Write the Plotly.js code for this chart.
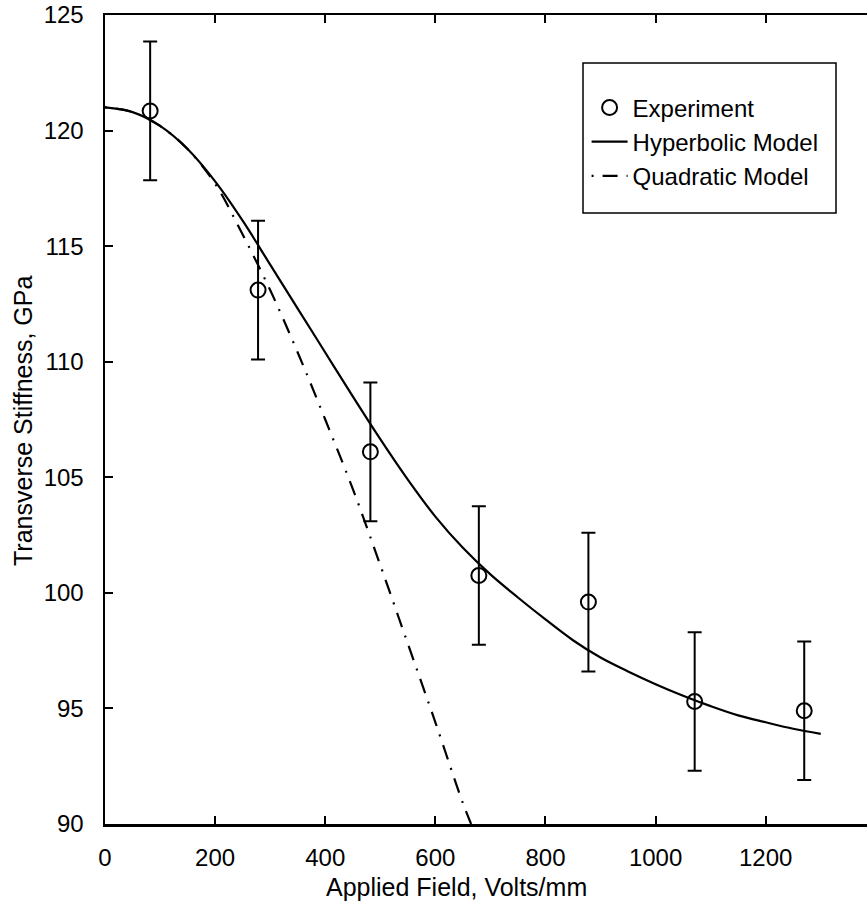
<!DOCTYPE html>
<html>
<head>
<meta charset="utf-8">
<script src="https://cdn.plot.ly/plotly-3.0.1.min.js"></script>
<style>html,body{margin:0;padding:0;background:#fff;}#chart{width:867px;height:906px;}</style>
</head>
<body>
<div id="chart"></div>
<script>
// Experimental data
var expField = [82, 278, 482, 679, 878, 1071, 1270];
var expStiffness = [120.85, 113.1, 106.1, 100.75, 99.6, 95.3, 94.9];
var expError = [3, 3, 3, 3, 3, 3, 3];

// Hyperbolic model curve
var hypField = [0, 50, 100, 150, 200, 250, 300, 350, 400, 450, 500, 550, 600, 650, 700, 750, 800, 850, 900, 950, 1000, 1050, 1100, 1150, 1200, 1250, 1300];
var hypStiffness = [121.0, 120.8, 120.2, 119.2, 117.8, 116.1, 114.2, 112.3, 110.4, 108.5, 106.65, 104.9, 103.3, 101.95, 100.8, 99.8, 98.85, 97.95, 97.2, 96.6, 96.05, 95.55, 95.1, 94.7, 94.4, 94.12, 93.9];

// Quadratic model curve
var quadField = [0, 50, 100, 150, 200, 250, 300, 350, 400, 450, 500, 550, 600, 650, 665];
var quadStiffness = [121.0, 120.8, 120.2, 119.2, 117.7, 115.5, 113.1, 110.4, 107.5, 104.5, 101.2, 97.8, 94.4, 90.9, 90.0];

var xTicks = [0, 200, 400, 600, 800, 1000, 1200];
var yTicks = [90, 95, 100, 105, 110, 115, 120, 125];

var FONT = "Liberation Sans, Arial, Helvetica, sans-serif";

var traces = [
  {
    x: hypField, y: hypStiffness, type: 'scatter', mode: 'lines',
    name: 'Hyperbolic Model', legendrank: 2,
    line: {color: '#000', width: 2.2, shape: 'spline', smoothing: 1}
  },
  {
    x: quadField, y: quadStiffness, type: 'scatter', mode: 'lines',
    name: 'Quadratic Model', legendrank: 3,
    line: {color: '#000', width: 2.2, dash: '2px,9px,15px,9px', shape: 'spline', smoothing: 1}
  },
  {
    x: expField, y: expStiffness, type: 'scatter', mode: 'markers',
    name: 'Experiment', legendrank: 1,
    marker: {symbol: 'circle-open', size: 15, color: '#000', line: {color: '#000', width: 2}},
    error_y: {type: 'data', array: expError, visible: true, color: '#000', thickness: 2, width: 7}
  }
];

var layout = {
  width: 867, height: 906,
  margin: {l: 105, r: 0, t: 15, b: 82},
  paper_bgcolor: '#fff', plot_bgcolor: '#fff',
  font: {family: FONT, color: '#000', size: 24},
  showlegend: true,
  xaxis: {
    range: [0, 1384], tickvals: xTicks, ticktext: xTicks.map(String),
    ticks: 'inside', ticklen: 8, tickwidth: 2, tickcolor: '#000',
    showline: true, linewidth: 2.5, linecolor: '#000', mirror: 'ticks',
    showgrid: false, zeroline: false,
    tickfont: {family: FONT, size: 24, color: '#000'},
    ticklabelstandoff: 11
  },
  yaxis: {
    range: [90, 125], tickvals: yTicks, ticktext: yTicks.map(String),
    ticks: 'inside', ticklen: 8, tickwidth: 2, tickcolor: '#000',
    showline: true, linewidth: 2.5, linecolor: '#000', mirror: false,
    showgrid: false, zeroline: false,
    tickfont: {family: FONT, size: 24, color: '#000'},
    ticklabelstandoff: 14
  },
  legend: {
    x: 0.632, y: 0.913, xanchor: 'left', yanchor: 'top',
    bgcolor: 'rgba(0,0,0,0)', borderwidth: 0,
    font: {family: FONT, size: 24, color: '#000'},
    traceorder: 'normal', itemwidth: 36
  },
  shapes: [
    {type: 'rect', xref: 'paper', yref: 'paper',
     x0: (583 - 105) / 762, x1: (836 - 105) / 762,
     y0: (824 - 213) / 809, y1: (824 - 63) / 809,
     line: {color: '#000', width: 1.5}, fillcolor: '#fff', layer: 'below'}
  ],
  annotations: [
    {text: 'Applied Field, Volts/mm', xref: 'paper', yref: 'paper',
     x: (456 - 105) / 762, y: (824 - 887) / 809, xanchor: 'center', yanchor: 'middle',
     showarrow: false, font: {family: FONT, size: 25, color: '#000'}},
    {text: 'Transverse Stiffness, GPa', xref: 'paper', yref: 'paper',
     x: (23 - 105) / 762, y: (824 - 421) / 809, xanchor: 'center', yanchor: 'middle',
     textangle: -90, showarrow: false, font: {family: FONT, size: 25, color: '#000'}}
  ]
};

Plotly.newPlot('chart', traces, layout, {displayModeBar: false, staticPlot: true});
</script>
</body>
</html>
